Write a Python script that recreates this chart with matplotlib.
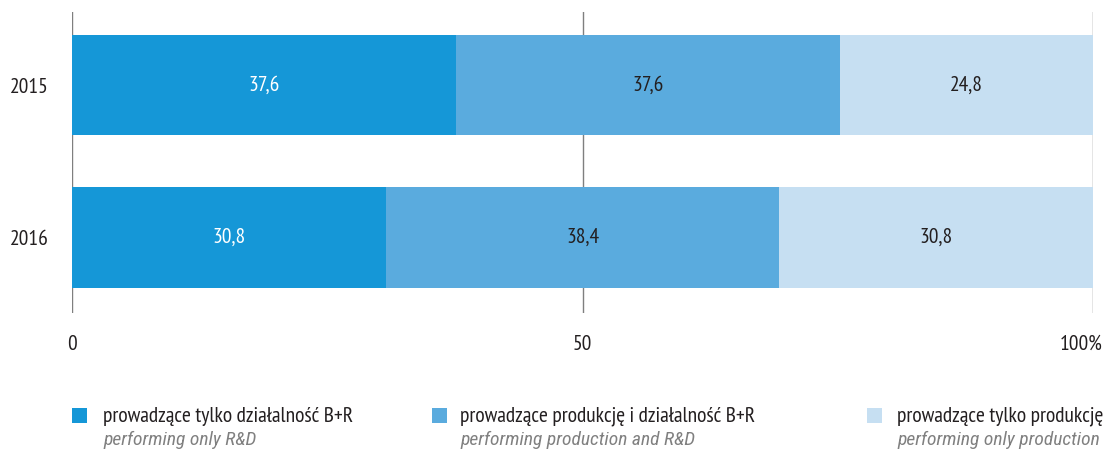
import matplotlib
matplotlib.use("Agg")
import matplotlib.pyplot as plt
from matplotlib.patches import Rectangle
import matplotlib.transforms as mtransforms

plt.rcParams['font.family'] = ['PT Sans Narrow', 'DejaVu Sans']
ITALIC = ['Roboto Condensed', 'DejaVu Sans']

years = ['2015', '2016']
only_rd = [37.6, 30.8]
prod_rd = [37.6, 38.4]
only_prod = [24.8, 30.8]
series = [only_rd, prod_rd, only_prod]
colors = ['#1597d7', '#5aabde', '#c6dff2']
text_colors = ['white', '#231f20', '#231f20']
legend_pl = ['prowadzące tylko działalność B+R',
             'prowadzące produkcję i działalność B+R',
             'prowadzące tylko produkcję']
legend_en = ['performing only R&D',
             'performing production and R&D',
             'performing only production']
xticks = [0, 50, 100]
xticklabels = ['0', '50', '100%']

FS = 15.5
W, H = 1104, 450
fig = plt.figure(figsize=(W / 100, H / 100), dpi=100)
ax = fig.add_axes([72 / W, 1 - 313 / H, (1093 - 72) / W, (313 - 12) / H])

ypos = list(range(len(years)))
left = [0.0] * len(years)
for vals, c, tc in zip(series, colors, text_colors):
    bars = ax.barh(ypos, vals, left=left, height=0.66, color=c, zorder=3)
    for b, v in zip(bars, vals):
        ax.text(b.get_x() + b.get_width() / 2, b.get_y() + b.get_height() / 2,
                f'{v:.1f}'.replace('.', ','), ha='center', va='center',
                color=tc, fontsize=FS, zorder=4)
    left = [l + v for l, v in zip(left, vals)]

ax.set_xlim(0, 100)
ax.set_ylim(1.495, -0.479)
ax.set_yticks(ypos)
ax.set_yticklabels(years)
ax.set_xticks(xticks)
ax.set_xticklabels(xticklabels)
ax.tick_params(axis='both', length=0, labelsize=FS, colors='#231f20')
ax.tick_params(axis='x', pad=16)
ax.tick_params(axis='y', pad=17)
for s in ax.spines.values():
    s.set_visible(False)
ax.grid(axis='x', color='#7f7f7f', linewidth=1.0, zorder=0)
ax.grid(axis='y', visible=False)

# shift "100%" label left
lbl = ax.get_xticklabels()[-1]
lbl.set_transform(lbl.get_transform() + mtransforms.ScaledTranslation(-12 / 100, 0, fig.dpi_scale_trans))

# legend
sq_x = [72, 432, 867]
tx_x = [103, 460, 897]
for i in range(3):
    fig.add_artist(Rectangle((sq_x[i] / W, 1 - 423 / H), 15 / W, 15 / H,
                             transform=fig.transFigure, color=colors[i], lw=0))
    fig.text(tx_x[i] / W, 1 - 416 / H, legend_pl[i], fontsize=FS,
             color='#231f20', va='center', ha='left')
    fig.text(tx_x[i] / W, 1 - 440 / H, legend_en[i], fontsize=FS - 1.5,
             color='#808080', style='italic', family=ITALIC,
             va='center', ha='left')

fig.savefig('out.png', dpi=100)
